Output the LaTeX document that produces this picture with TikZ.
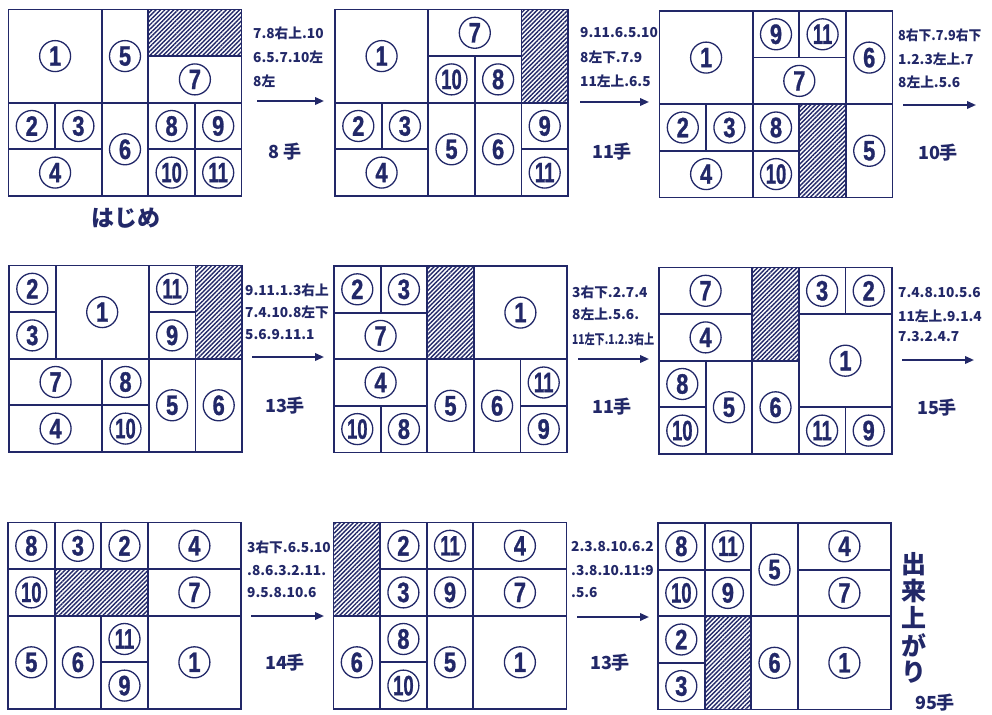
\documentclass[tikz,border=0pt]{standalone}
\usepackage{graphicx}
\usepackage{fontspec}
\setmainfont{Liberation Sans}
\newfontfamily\numfont{Liberation Sans}[BoldFeatures={FakeBold=1.2}]
\newfontfamily\jp{Noto Sans CJK JP}
\usetikzlibrary{arrows.meta,patterns.meta}
\definecolor{ink}{RGB}{34,40,104}
\def\U{46.6}
\newcommand{\dg}[1]{\ifnum#1>9 \scalebox{0.66}[1]{#1}\else \scalebox{0.78}[1]{#1}\fi}
\tikzset{
  grid/.style={draw=ink, line width=1.8pt, rectangle, inner sep=0pt},
  num/.style={circle, draw=ink, line width=1.3pt, minimum size=31pt, inner sep=0pt, text=ink,
    font=\numfont\bfseries\fontsize{28}{28}\selectfont},
  hole/.style={rectangle, inner sep=0pt, pattern={Lines[angle=45,distance=3.1pt,line width=1.4pt]}, pattern color=ink},
  lbl/.style={anchor=west, inner sep=0pt, text=ink, font=\jp\bfseries\fontsize{13.7}{14}\selectfont},
  cnt/.style={inner sep=0pt, text=ink, font=\jp\bfseries\fontsize{18}{18}\selectfont},
  mv/.style={draw=ink, line width=2pt, -{Triangle[length=9pt,width=7.5pt]}}
}
% piece: board prefix, col, row, w, h, label
\newcommand{\pc}[6]{%
  \node[grid, minimum width={#4*\U pt}, minimum height={#5*\U pt}] (#1-#6) at ({(#2+#4/2)*\U},{(#3+#5/2)*\U}) {};
  \node[num] (#1-n#6) at (#1-#6.center) {\dg{#6}};
}
% empty cells: board prefix, col, row, w, h
\newcommand{\hl}[5]{%
  \node[hole, minimum width={#4*\U pt}, minimum height={#5*\U pt}] (#1-hole) at ({(#2+#4/2)*\U},{(#3+#5/2)*\U}) {};
}
\newcommand{\frm}[1]{%
  \node[grid, minimum width={5*\U pt}, minimum height={4*\U pt}] (#1) at ({2.5*\U},{2*\U}) {};
}
\begin{document}
\begin{tikzpicture}[x=1pt,y=-1pt]
\useasboundingbox[fill=white] (0,0) rectangle (992,714);

% ---------- board 1
\begin{scope}[shift={(8.5,9.5)}]
\hl{b1}{3}{0}{2}{1}
\pc{b1}{0}{0}{2}{2}{1}
\pc{b1}{2}{0}{1}{2}{5}
\pc{b1}{3}{1}{2}{1}{7}
\pc{b1}{0}{2}{1}{1}{2}
\pc{b1}{1}{2}{1}{1}{3}
\pc{b1}{0}{3}{2}{1}{4}
\pc{b1}{2}{2}{1}{2}{6}
\pc{b1}{3}{2}{1}{1}{8}
\pc{b1}{4}{2}{1}{1}{9}
\pc{b1}{3}{3}{1}{1}{10}
\pc{b1}{4}{3}{1}{1}{11}
\frm{b1}
\end{scope}

% ---------- board 2
\begin{scope}[shift={(335,9.5)}]
\hl{b2}{4}{0}{1}{2}
\pc{b2}{0}{0}{2}{2}{1}
\pc{b2}{2}{0}{2}{1}{7}
\pc{b2}{2}{1}{1}{1}{10}
\pc{b2}{3}{1}{1}{1}{8}
\pc{b2}{0}{2}{1}{1}{2}
\pc{b2}{1}{2}{1}{1}{3}
\pc{b2}{0}{3}{2}{1}{4}
\pc{b2}{2}{2}{1}{2}{5}
\pc{b2}{3}{2}{1}{2}{6}
\pc{b2}{4}{2}{1}{1}{9}
\pc{b2}{4}{3}{1}{1}{11}
\frm{b2}
\end{scope}

% ---------- board 3
\begin{scope}[shift={(659.5,11)}]
\hl{b3}{3}{2}{1}{2}
\pc{b3}{0}{0}{2}{2}{1}
\pc{b3}{2}{0}{1}{1}{9}
\pc{b3}{3}{0}{1}{1}{11}
\pc{b3}{2}{1}{2}{1}{7}
\pc{b3}{4}{0}{1}{2}{6}
\pc{b3}{0}{2}{1}{1}{2}
\pc{b3}{1}{2}{1}{1}{3}
\pc{b3}{0}{3}{2}{1}{4}
\pc{b3}{2}{2}{1}{1}{8}
\pc{b3}{2}{3}{1}{1}{10}
\pc{b3}{4}{2}{1}{2}{5}
\frm{b3}
\end{scope}

% ---------- board 4
\begin{scope}[shift={(9,265.5)}]
\hl{b4}{4}{0}{1}{2}
\pc{b4}{0}{0}{1}{1}{2}
\pc{b4}{0}{1}{1}{1}{3}
\pc{b4}{1}{0}{2}{2}{1}
\pc{b4}{3}{0}{1}{1}{11}
\pc{b4}{3}{1}{1}{1}{9}
\pc{b4}{0}{2}{2}{1}{7}
\pc{b4}{0}{3}{2}{1}{4}
\pc{b4}{2}{2}{1}{1}{8}
\pc{b4}{2}{3}{1}{1}{10}
\pc{b4}{3}{2}{1}{2}{5}
\pc{b4}{4}{2}{1}{2}{6}
\frm{b4}
\end{scope}

% ---------- board 5
\begin{scope}[shift={(334,266)}]
\hl{b5}{2}{0}{1}{2}
\pc{b5}{0}{0}{1}{1}{2}
\pc{b5}{1}{0}{1}{1}{3}
\pc{b5}{0}{1}{2}{1}{7}
\pc{b5}{3}{0}{2}{2}{1}
\pc{b5}{0}{2}{2}{1}{4}
\pc{b5}{0}{3}{1}{1}{10}
\pc{b5}{1}{3}{1}{1}{8}
\pc{b5}{2}{2}{1}{2}{5}
\pc{b5}{3}{2}{1}{2}{6}
\pc{b5}{4}{2}{1}{1}{11}
\pc{b5}{4}{3}{1}{1}{9}
\frm{b5}
\end{scope}

% ---------- board 6
\begin{scope}[shift={(659,267.5)}]
\hl{b6}{2}{0}{1}{2}
\pc{b6}{0}{0}{2}{1}{7}
\pc{b6}{0}{1}{2}{1}{4}
\pc{b6}{3}{0}{1}{1}{3}
\pc{b6}{4}{0}{1}{1}{2}
\pc{b6}{3}{1}{2}{2}{1}
\pc{b6}{0}{2}{1}{1}{8}
\pc{b6}{0}{3}{1}{1}{10}
\pc{b6}{1}{2}{1}{2}{5}
\pc{b6}{2}{2}{1}{2}{6}
\pc{b6}{3}{3}{1}{1}{11}
\pc{b6}{4}{3}{1}{1}{9}
\frm{b6}
\end{scope}

% ---------- board 7
\begin{scope}[shift={(8,522.5)}]
\hl{b7}{1}{1}{2}{1}
\pc{b7}{0}{0}{1}{1}{8}
\pc{b7}{1}{0}{1}{1}{3}
\pc{b7}{2}{0}{1}{1}{2}
\pc{b7}{3}{0}{2}{1}{4}
\pc{b7}{0}{1}{1}{1}{10}
\pc{b7}{3}{1}{2}{1}{7}
\pc{b7}{0}{2}{1}{2}{5}
\pc{b7}{1}{2}{1}{2}{6}
\pc{b7}{2}{2}{1}{1}{11}
\pc{b7}{2}{3}{1}{1}{9}
\pc{b7}{3}{2}{2}{2}{1}
\frm{b7}
\end{scope}

% ---------- board 8
\begin{scope}[shift={(333.5,522.5)}]
\hl{b8}{0}{0}{1}{2}
\pc{b8}{1}{0}{1}{1}{2}
\pc{b8}{2}{0}{1}{1}{11}
\pc{b8}{3}{0}{2}{1}{4}
\pc{b8}{1}{1}{1}{1}{3}
\pc{b8}{2}{1}{1}{1}{9}
\pc{b8}{3}{1}{2}{1}{7}
\pc{b8}{0}{2}{1}{2}{6}
\pc{b8}{1}{2}{1}{1}{8}
\pc{b8}{1}{3}{1}{1}{10}
\pc{b8}{2}{2}{1}{2}{5}
\pc{b8}{3}{2}{2}{2}{1}
\frm{b8}
\end{scope}

% ---------- board 9
\begin{scope}[shift={(658,523)}]
\hl{b9}{1}{2}{1}{2}
\pc{b9}{0}{0}{1}{1}{8}
\pc{b9}{1}{0}{1}{1}{11}
\pc{b9}{0}{1}{1}{1}{10}
\pc{b9}{1}{1}{1}{1}{9}
\pc{b9}{2}{0}{1}{2}{5}
\pc{b9}{3}{0}{2}{1}{4}
\pc{b9}{3}{1}{2}{1}{7}
\pc{b9}{0}{2}{1}{1}{2}
\pc{b9}{0}{3}{1}{1}{3}
\pc{b9}{2}{2}{1}{2}{6}
\pc{b9}{3}{2}{2}{2}{1}
\frm{b9}
\end{scope}

% ---------- captions
\node[inner sep=0pt, text=ink, font=\jp\bfseries\fontsize{23}{23}\selectfont] (start) at (126,218) {はじめ};

% ---------- move 1
\node[lbl] (m1a) at (253,33) {7.8右上.10};
\node[lbl] (m1b) at (253,57) {6.5.7.10左};
\node[lbl] (m1c) at (253,81) {8左};
\coordinate (m1s) at (257,101); \coordinate (m1e) at (324,101);
\draw[mv] (m1s) -- (m1e);
\node[cnt] (m1n) at (285,152) {8 手};

% ---------- move 2
\node[lbl] (m2a) at (580,33) {9.11.6.5.10};
\node[lbl] (m2b) at (580,57) {8左下.7.9};
\node[lbl] (m2c) at (580,81) {11左上.6.5};
\coordinate (m2s) at (580,102); \coordinate (m2e) at (649,102);
\draw[mv] (m2s) -- (m2e);
\node[cnt] (m2n) at (612,152) {11手};

% ---------- move 3
\node[lbl] (m3a) at (898,35) {\scalebox{0.93}[1]{8右下.7.9右下}};
\node[lbl] (m3b) at (898,59) {1.2.3左上.7};
\node[lbl] (m3c) at (898,82) {8左上.5.6};
\coordinate (m3s) at (903,105); \coordinate (m3e) at (976,105);
\draw[mv] (m3s) -- (m3e);
\node[cnt] (m3n) at (938,153) {10手};

% ---------- move 4
\node[lbl] (m4a) at (245,290) {9.11.1.3右上};
\node[lbl] (m4b) at (245,312) {7.4.10.8左下};
\node[lbl] (m4c) at (245,335) {5.6.9.11.1};
\coordinate (m4s) at (252,357); \coordinate (m4e) at (324,357);
\draw[mv] (m4s) -- (m4e);
\node[cnt] (m4n) at (285,406) {13手};

% ---------- move 5
\node[lbl] (m5a) at (572,292) {3右下.2.7.4};
\node[lbl] (m5b) at (572,314) {8左上.5.6.};
\node[lbl] (m5c) at (572,339) {\scalebox{0.74}[1]{11左下.1.2.3右上}};
\coordinate (m5s) at (578,359); \coordinate (m5e) at (649,359);
\draw[mv] (m5s) -- (m5e);
\node[cnt] (m5n) at (612,407) {11手};

% ---------- move 6
\node[lbl] (m6a) at (898,293) {7.4.8.10.5.6};
\node[lbl] (m6b) at (898,316) {11左上.9.1.4};
\node[lbl] (m6c) at (898,337) {7.3.2.4.7};
\coordinate (m6s) at (902,360); \coordinate (m6e) at (974,360);
\draw[mv] (m6s) -- (m6e);
\node[cnt] (m6n) at (937,408) {15手};

% ---------- move 7
\node[lbl] (m7a) at (247,547) {3右下.6.5.10};
\node[lbl] (m7b) at (247,571) {.8.6.3.2.11.};
\node[lbl] (m7c) at (247,593) {9.5.8.10.6};
\coordinate (m7s) at (251,616); \coordinate (m7e) at (324,616);
\draw[mv] (m7s) -- (m7e);
\node[cnt] (m7n) at (285,663) {14手};

% ---------- move 8
\node[lbl] (m8a) at (571,547) {2.3.8.10.6.2};
\node[lbl] (m8b) at (571,571) {.3.8.10.11:9};
\node[lbl] (m8c) at (571,593) {.5.6};
\coordinate (m8s) at (577,617); \coordinate (m8e) at (649,617);
\draw[mv] (m8s) -- (m8e);
\node[cnt] (m8n) at (610,663) {13手};

% ---------- finish
\foreach \ch [count=\i] in {出,来,上,が,り}
  \node[inner sep=0pt, text=ink, font=\jp\bfseries\fontsize{25}{25}\selectfont] (fin\i) at (914,{564+27*(\i-1)}) {\ch};
\node[cnt] (total) at (935,703) {95手};
\end{tikzpicture}
\end{document}
